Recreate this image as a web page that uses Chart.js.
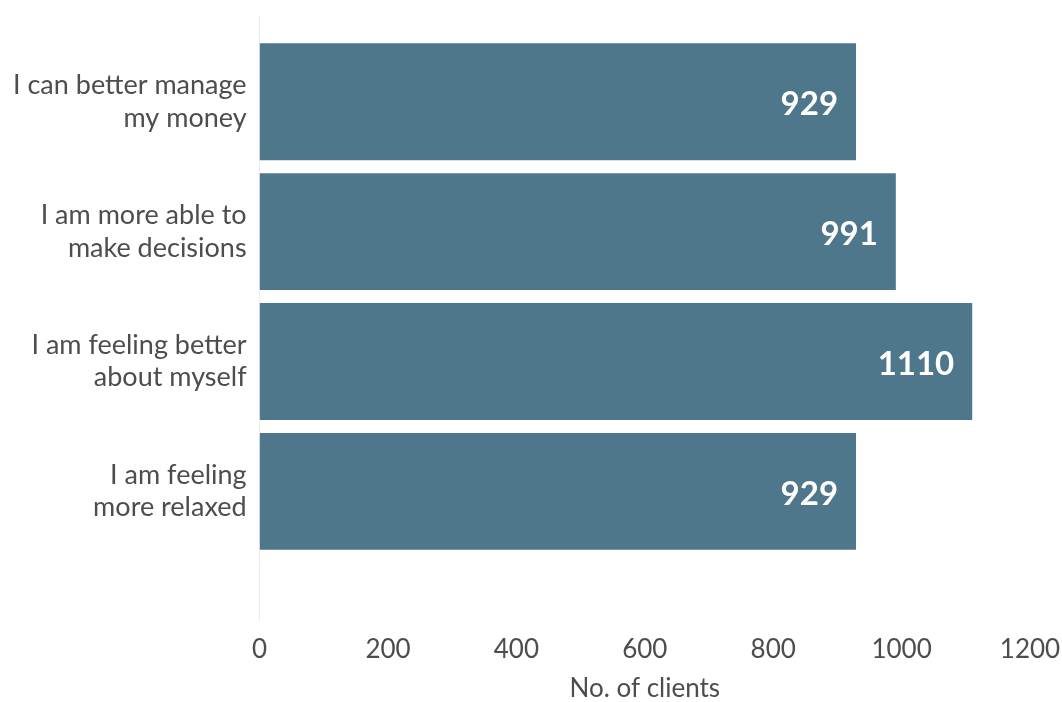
<!DOCTYPE html>
<html>
<head>
<meta charset="utf-8">
<script src="https://cdn.jsdelivr.net/npm/chart.js@4"></script>
<style>
  html, body { margin: 0; padding: 0; background: #fff; }
  #wrap { width: 1062px; height: 702px; }
</style>
</head>
<body>
<div id="wrap"><canvas id="clientsChart"></canvas></div>
<script>
// categories and values
const categories = [
    ['I can better manage', 'my money'],
    ['I am more able to', 'make decisions'],
    ['I am feeling better', 'about myself'],
    ['I am feeling', 'more relaxed']
];
const clientCounts = [929, 991, 1110, 929];
const xTicks = [0, 200, 400, 600, 800, 1000, 1200];

const FONT = 'Lato, "Open Sans", sans-serif';

// white value labels drawn at the end of each bar
const valueLabels = {
    id: 'valueLabels',
    afterDatasetsDraw(chart) {
        const ctx = chart.ctx;
        const meta = chart.getDatasetMeta(0);
        ctx.save();
        ctx.fillStyle = '#ffffff';
        ctx.font = 'bold 33px ' + FONT;
        ctx.textAlign = 'right';
        ctx.textBaseline = 'middle';
        meta.data.forEach((bar, i) => {
            ctx.fillText(String(clientCounts[i]), bar.x - 18, bar.y + 3);
        });
        ctx.restore();
    }
};

const ctx = document.getElementById('clientsChart').getContext('2d');
new Chart(ctx, {
    type: 'bar',
    data: {
        datasets: [{
            data: clientCounts.map((v, i) => ({ x: v, y: i })),
            backgroundColor: '#4f778c',
            borderWidth: 0,
            categoryPercentage: 1,
            barPercentage: 0.9
        }]
    },
    options: {
        indexAxis: 'y',
        responsive: true,
        maintainAspectRatio: false,
        animation: false,
        layout: { padding: { top: 16, left: 0, right: 32, bottom: 0 } },
        plugins: {
            legend: { display: false },
            tooltip: { enabled: false }
        },
        scales: {
            x: {
                type: 'linear',
                min: 0,
                max: 1200,
                afterBuildTicks: (axis) => { axis.ticks = xTicks.map(v => ({ value: v })); },
                afterFit: (axis) => { axis.paddingLeft = 0; axis.paddingRight = 0; },
                grid: { display: false, drawTicks: false },
                border: { display: false },
                ticks: {
                    color: '#4d4d4d',
                    font: { family: FONT, size: 26, lineHeight: 1 },
                    padding: 17,
                    maxRotation: 0,
                    callback: (value) => String(value)
                },
                title: {
                    display: true,
                    text: 'No. of clients',
                    color: '#4d4d4d',
                    font: { family: FONT, size: 26, lineHeight: 1 },
                    padding: { top: -4, bottom: 0 }
                }
            },
            y: {
                type: 'linear',
                reverse: true,
                offset: false,
                min: -0.66,
                max: 3.99,
                afterBuildTicks: (axis) => { axis.ticks = categories.map((c, i) => ({ value: i })); },
                afterFit: (axis) => { axis.paddingTop = 0; axis.paddingBottom = 0; },
                grid: { display: false, drawTicks: false },
                border: { display: true, color: '#ececec', width: 1 },
                ticks: {
                    color: '#4d4d4d',
                    font: { family: FONT, size: 27, lineHeight: 1.2 },
                    padding: 13,
                    callback: (value) => categories[value] || ''
                }
            }
        }
    },
    plugins: [valueLabels]
});
</script>
</body>
</html>
